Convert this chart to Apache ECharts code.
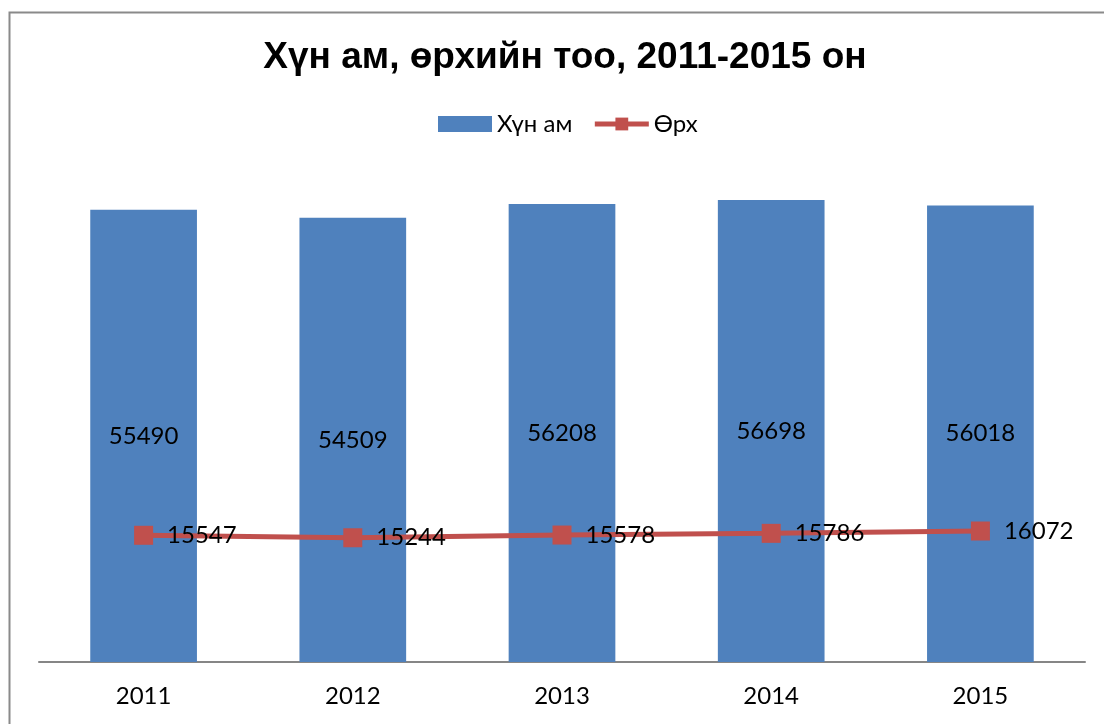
<!DOCTYPE html>
<html>
<head>
<meta charset="utf-8">
<script src="https://cdn.jsdelivr.net/npm/echarts@6/dist/echarts.min.js"></script>
<style>
html, body { margin: 0; padding: 0; background: #fff; }
#main { width: 1104px; height: 724px; }
</style>
</head>
<body>
<div id="main"></div>
<script>
var years = ['2011', '2012', '2013', '2014', '2015'];
var population = [55490, 54509, 56208, 56698, 56018];
var households = [15547, 15244, 15578, 15786, 16072];

var myChart = echarts.init(document.getElementById('main'));
var option = {
    animation: false,
    textStyle: { fontFamily: 'Lato' },
    graphic: [{
        type: 'rect',
        shape: { x: 9.5, y: 12.5, width: 1200, height: 800 },
        style: { fill: 'none', stroke: '#8a8a8a', lineWidth: 2 },
        silent: true
    }],
    title: {
        text: 'Хүн ам, өрхийн тоо, 2011-2015 он',
        left: 560,
        textAlign: 'center',
        top: 34,
        textStyle: {
            fontFamily: 'Liberation Sans',
            fontWeight: 'bold',
            fontSize: 37,
            color: '#000'
        }
    },
    legend: {
        top: 107,
        left: 433,
        itemWidth: 54,
        itemHeight: 16,
        itemGap: 20,
        lineStyle: { width: 5 },
        textStyle: { fontFamily: 'Lato', fontSize: 24, color: '#000' },
        data: [
            { name: 'Хүн ам', icon: 'rect' },
            { name: 'Өрх' }
        ]
    },
    grid: {
        left: 39,
        right: 19,
        top: 173,
        bottom: 62
    },
    xAxis: {
        type: 'category',
        data: years,
        axisLine: { lineStyle: { color: '#868686', width: 2 } },
        axisTick: { show: false },
        axisLabel: { color: '#000', fontSize: 24, margin: 22, fontFamily: 'Lato' }
    },
    yAxis: {
        type: 'value',
        min: 0,
        max: 60000,
        show: false,
        splitLine: { show: false }
    },
    series: [
        {
            name: 'Хүн ам',
            type: 'bar',
            data: population,
            barCategoryGap: '49%',
            itemStyle: { color: '#4F81BD' },
            label: {
                show: true,
                position: 'inside',
                color: '#000',
                fontSize: 24,
                fontFamily: 'Lato'
            }
        },
        {
            name: 'Өрх',
            type: 'line',
            data: households,
            symbol: 'rect',
            symbolSize: 19,
            lineStyle: { color: '#C0504D', width: 5 },
            itemStyle: { color: '#C0504D' },
            label: {
                show: true,
                position: 'right',
                distance: 14,
                color: '#000',
                fontSize: 24,
                fontFamily: 'Lato'
            }
        }
    ]
};
myChart.setOption(option);
</script>
</body>
</html>
